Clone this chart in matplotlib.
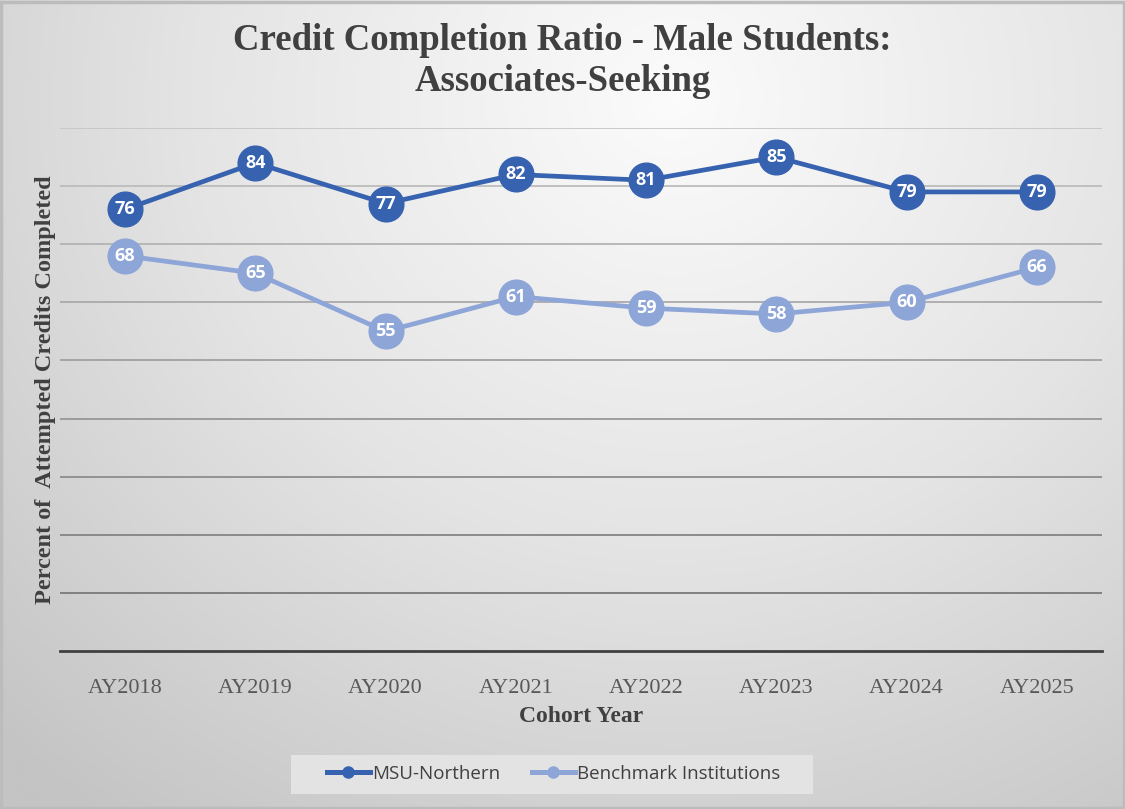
import numpy as np
import matplotlib.pyplot as plt
from matplotlib.colors import LinearSegmentedColormap
from matplotlib.lines import Line2D
from matplotlib.patches import Rectangle

years = ["AY2018", "AY2019", "AY2020", "AY2021", "AY2022", "AY2023", "AY2024", "AY2025"]
msu = [76, 84, 77, 82, 81, 85, 79, 79]
bench = [68, 65, 55, 61, 59, 58, 60, 66]

DARK = "#3762b0"
LIGHT = "#8ea5d8"
SERIF = "Liberation Serif"
SANS = "Open Sans"

fig = plt.figure(figsize=(11.25, 8.09), dpi=100)

# radial gradient background
bg = fig.add_axes([0, 0, 1, 1], zorder=-10)
gx, gy = np.meshgrid(np.linspace(0, 1, 400), np.linspace(0, 1, 300))
r = np.sqrt(((gx - 0.6) * 1.1) ** 2 + ((gy - 0.88) * 0.85) ** 2)
cmap = LinearSegmentedColormap.from_list("bg", ["#fbfbfb", "#e4e4e4", "#c4c4c4"])
bg.imshow(r, cmap=cmap, origin="lower", extent=[0, 1, 0, 1], aspect="auto", vmin=0, vmax=0.95)
bg.add_patch(Rectangle((0.001, 0.001), 0.998, 0.997, fill=False, ec="#bcbcbc", lw=2.5,
                       transform=bg.transAxes))
bg.axis("off")

ax = fig.add_axes([60 / 1125, 1 - 651 / 809, 1042 / 1125, 523 / 809])
ax.patch.set_alpha(0)
ax.set_xlim(-0.5, len(years) - 0.5)
ax.set_ylim(0, 90)

# gridlines get darker toward the bottom
for i, y in enumerate(range(10, 91, 10)):
    shade = 0.48 + 0.037 * i
    ax.axhline(y, color=str(shade), lw=1.3, zorder=1)

x = np.arange(len(years))
ax.plot(x, msu, color=DARK, lw=3.4, marker="o", ms=25, zorder=3, label="MSU-Northern")
ax.plot(x, bench, color=LIGHT, lw=3.4, marker="o", ms=25, zorder=3, label="Benchmark Institutions")
for xi, v in zip(x, msu):
    ax.text(xi, v, str(v), ha="center", va="center", color="white", fontsize=13,
            fontweight="bold", family=SANS, zorder=4)
for xi, v in zip(x, bench):
    ax.text(xi, v, str(v), ha="center", va="center", color="white", fontsize=13,
            fontweight="bold", family=SANS, zorder=4)

for s in ["top", "right", "left"]:
    ax.spines[s].set_visible(False)
ax.spines["bottom"].set_color("#404040")
ax.spines["bottom"].set_linewidth(2)
ax.set_yticks([])
ax.set_xticks(x)
ax.set_xticklabels(years, family=SERIF, fontsize=16, color="#595959")
ax.tick_params(axis="x", length=0, pad=20)
ax.set_xlabel("Cohort Year", family=SERIF, fontsize=17, fontweight="bold", color="#404040", labelpad=6)
ax.set_ylabel("Percent of  Attempted Credits Completed", family=SERIF, fontsize=17.5,
              fontweight="bold", color="#404040", labelpad=3)

fig.text(0.5, 1 - 61 / 809, "Credit Completion Ratio - Male Students:\nAssociates-Seeking",
         ha="center", va="center", family=SERIF, fontsize=26.5, fontweight="bold",
         color="#404040", linespacing=1.25)

# legend box
fig.patches.append(Rectangle((291 / 1125, 1 - 794 / 809), 522 / 1125, 39 / 809,
                             transform=fig.transFigure, fc="#e3e3e3", ec="none", zorder=1))
handles = [Line2D([], [], color=DARK, lw=3.6, marker="o", ms=8),
           Line2D([], [], color=LIGHT, lw=3.6, marker="o", ms=8)]
fig.legend(handles, ["MSU-Northern", "Benchmark Institutions"], loc="center",
           bbox_to_anchor=(554 / 1125, 1 - 774 / 809), ncol=2, frameon=False,
           prop={"family": SANS, "size": 13.5}, handlelength=2.25, handletextpad=0.15,
           columnspacing=1.7, labelcolor="#404040")

fig.savefig("out.png", dpi=100)
